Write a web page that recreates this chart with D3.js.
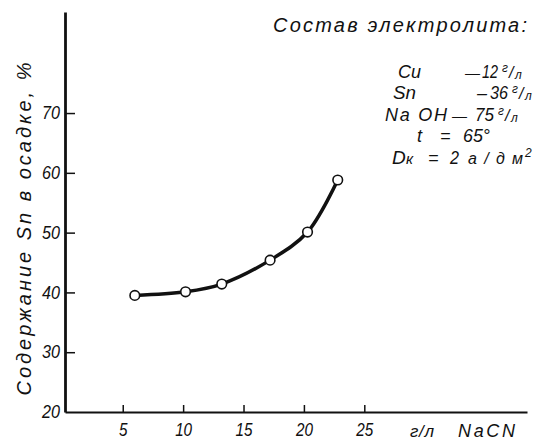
<!DOCTYPE html>
<html><head><meta charset="utf-8">
<script src="https://cdn.jsdelivr.net/npm/d3@7"></script>
<style>
body{margin:0;background:#fff;}
svg text{font-family:"Liberation Sans",Arial,sans-serif;font-style:italic;fill:#111;}
</style></head>
<body><svg id="c" width="534" height="441"></svg>
<script>
// Data
const naCN = [6.0, 10.2, 13.2, 17.2, 20.3, 22.8];      // г/л NaCN
const snPct = [39.5, 40.1, 41.4, 45.4, 50.1, 58.8];    // Sn в осадке, %
const xTicks = [5, 10, 15, 20, 25];
const yTicks = [20, 30, 40, 50, 60, 70];
const yLabel = "Содержание  Sn  в  осадке, %";
const xLabelUnit = "г/л";
const xLabelName = "NaCN";
const title = "Состав электролита:";

const svg = d3.select("#c");
const x = d3.scaleLinear().domain([0.22, 38.47]).range([65, 527]);
const y = d3.scaleLinear().domain([20, 86.9]).range([412, 12]);

// axes
const gx = svg.append("g").attr("transform", "translate(0,412)")
  .call(d3.axisBottom(x).tickValues(xTicks).tickSizeInner(-7).tickSizeOuter(0).tickPadding(11));
gx.select(".domain").attr("stroke", "#111").attr("stroke-width", 2.2);
gx.selectAll(".tick line").attr("stroke", "#111").attr("stroke-width", 1.5);
gx.selectAll(".tick text").style("font-size", "18px").attr("font-family", null)
  .attr("textLength", d => String(d).length * 8.5).attr("lengthAdjust", "spacingAndGlyphs");

const gy = svg.append("g").attr("transform", "translate(65,0)")
  .call(d3.axisLeft(y).tickValues(yTicks).tickSizeInner(-10).tickSizeOuter(0).tickPadding(5));
gy.select(".domain").attr("stroke", "#111").attr("stroke-width", 2.8);
gy.selectAll(".tick line").attr("stroke", "#111").attr("stroke-width", 1.5);
gy.selectAll(".tick text").style("font-size", "18px").attr("font-family", null)
  .attr("textLength", 18).attr("lengthAdjust", "spacingAndGlyphs");
gy.selectAll(".tick").filter(d => d === 20).select("line").remove();

// x label
svg.append("text").attr("x", 410).attr("y", 437).style("font-size", "17px")
  .attr("textLength", 24).attr("lengthAdjust", "spacing").text(xLabelUnit);
svg.append("text").attr("x", 458).attr("y", 437).style("font-size", "18px")
  .attr("textLength", 57).attr("lengthAdjust", "spacing").text(xLabelName);

// y label
svg.append("text").attr("transform", "translate(31,229) rotate(-90)")
  .attr("text-anchor", "middle").style("font-size", "20px")
  .attr("textLength", 333).attr("lengthAdjust", "spacing").text(yLabel);

// curve
const pts = naCN.map((v, i) => [v, snPct[i]]);
svg.append("path").datum(pts)
  .attr("d", d3.line().x(d => x(d[0])).y(d => y(d[1])).curve(d3.curveCatmullRom.alpha(0.5)))
  .attr("fill", "none").attr("stroke", "#111").attr("stroke-width", 3.5);
svg.selectAll("circle.pt").data(pts).join("circle").attr("class", "pt")
  .attr("cx", d => x(d[0])).attr("cy", d => y(d[1])).attr("r", 4.8)
  .attr("fill", "#fff").attr("stroke", "#111").attr("stroke-width", 1.6);

// title
svg.append("text").attr("x", 273).attr("y", 32).style("font-size", "20px")
  .attr("textLength", 254).attr("lengthAdjust", "spacing").text(title);

// composition block
const fs = "18px";
function piece(xx, yy, s, size, len, adj) {
  const t = svg.append("text").attr("x", xx).attr("y", yy).style("font-size", size || fs).text(s);
  if (len) t.attr("textLength", len).attr("lengthAdjust", adj || "spacingAndGlyphs");
}
function frac(xx, yy, num, den) {
  piece(xx, yy - 6, num, "12px");
  piece(xx + 7, yy, "/", "16px");
  piece(xx + 13, yy + 1, den, "12px");
}
piece(398, 78, "Cu", "19px", 23); piece(465, 78, "—", "15px"); piece(482, 78, "12", fs, 16); frac(502, 78, "г", "л");
piece(393, 99, "Sn", "19px", 23); piece(477, 99, "–", fs); piece(490, 99, "36", fs, 18); frac(512, 99, "г", "л");
piece(385, 121, "Na OH", fs, 62, "spacing"); piece(452, 121, "—", "15px"); piece(475, 121, "75", fs, 19); frac(498, 121, "г", "л");
piece(417, 142, "t", fs); piece(440, 142, "=", fs); piece(463, 142, "65°", fs, 27);
piece(392, 164, "D", "19px"); piece(406, 164, "к", "15px"); piece(428, 164, "=", fs); piece(450, 164, "2", fs, 9);
piece(468, 164, "а/дм", "16px", 55, "spacing");
piece(525, 157, "2", "12px");
</script></body></html>
